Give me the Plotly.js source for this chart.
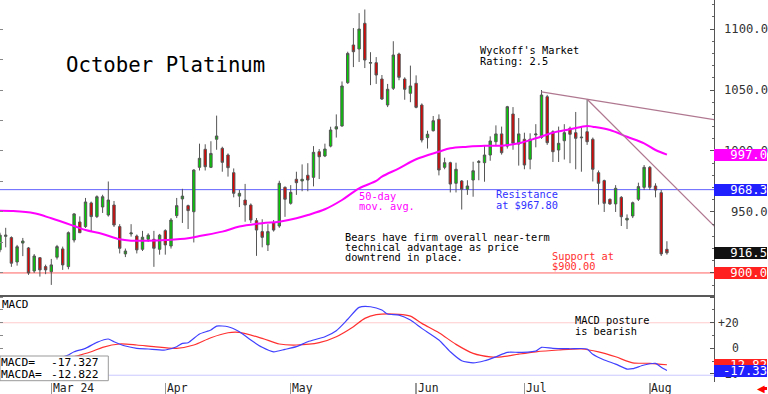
<!DOCTYPE html>
<html><head><meta charset="utf-8">
<script src="https://cdn.plot.ly/plotly-3.0.1.min.js"></script>
<style>html,body{margin:0;padding:0;background:#fff;}#chart{width:768px;height:394px;}</style>
</head><body><div id="chart"></div>
<script>
// ---- Data (trading-day index 0 = first visible session) ----
const open = [919,930,929,909,924.5,920.5,901.6,912.5,905.2,901,
912.9,919.7,905.2,927,941.8,938,957.4,946.2,954.1,947.5,
955.7,938,915.6,932,930.3,919.4,927.6,927.6,919.4,934.7,
922.1,947,960.7,955.2,950.2,986.6,1001.4,986.6,1009.6,1002.2,
996.7,982.2,963,959.8,955.7,942.9,933.9,923,941.2,938.5,
970.2,957.1,976.8,975.4,980.1,978.4,999.4,995.9,1004,1018,
1020.5,1056,1086.9,1083.6,1104.7,1072,1072.4,1059,1037.7,1051.4,
1079.5,1059,1047.3,1055.5,1037.7,1010.9,1016.6,1026,986.6,990.4,
973.5,975.4,968.6,976.2,990.6,990.4,996.7,1007.6,1014,1004,
1030.3,1005.7,1009.6,993.2,1013.2,1011.2,1044.5,1015.8,1000.8,1008.4,
1018.6,1015,1010.8,1015.8,1009.6,982.2,975.7,960.4,956.6,962,
943.4,946.7,960.4,970.2,986.6,971.3,965.8,919.4];
const high = [933,937,930,923,928.7,921.3,915.5,913,906.8,911.5,
923,921.6,934,949,946.4,961.5,958.5,963.6,964.1,975,
959,940,920,940,931.5,934.5,932.5,934.5,932,935.8,
945,961.5,969,956,985,1006,1005.5,1008,1029,1003.5,
998,985.7,968,973,957,945,944,940,943.4,975.6,
971,972,983,989,990,1004,1001.6,1006,1019.9,1030,
1057,1081.4,1100.8,1113,1116,1081,1077,1062.3,1055,1090,
1080.6,1060.4,1070,1062,1039,1016.6,1028.7,1030,994.5,991.2,
990.4,976.2,976,991.2,992.6,1004.9,1012,1021,1020,1037,
1036,1027,1015,1014.5,1022,1050,1046,1017,1020,1022,
1020,1032,1020,1042.4,1011,984,976.5,961,972,963,
948,958.5,974,988.5,987.7,973.5,968,926];
const low = [917,921,905,906,913.8,898.4,900,897,899,890.2,
911,902.5,903,925,932.8,936.9,933.8,945,949.2,946.2,
937.7,916,913,929.8,916,918,925.5,905,915,915,
920,945,941,936,925,984,984,986,1001,983,
979,962,954,942,941,914,921,918,933.9,937,
946,956,964,967,967,971,977,995,1003,1011,
1019.9,1055,1068.8,1073,1068,1054,1055,1041.8,1036,1050,
1058,1042,1040,1035,1007,1002,1016,980,985,966,
966,952,964,962.5,976,974.8,992,1004,997,1002,
1001,988,985,985,1003,1010,1005,991,991,993,
990,985,983,1005,975,956,950,955.8,950,938.5,
936,945,959,968,968,962,913.9,915];
const close = [931,931,908,921.5,926.2,900,913.9,902.5,902.5,906.6,
921.6,906.6,933,948.4,933,958.2,946.2,962.5,962.5,959.8,
939.3,920.2,918,932.8,918.9,929.3,931,920.2,931,923,
943.4,955.2,963,951.1,984.4,994,987.1,998,1012.3,990.7,
986.3,965.3,965.3,955.7,943.4,935.2,929.2,933.9,935.2,973.5,
960.4,966.1,974,976.8,976.2,998.9,995.3,1001.6,1017.2,1019.9,
1053.3,1080,1081.4,1100,1074.6,1072.5,1062.3,1042.6,1050.6,1078.7,
1060.4,1050.6,1053.3,1035.8,1009,1013.7,1024.8,984.4,990.4,972.9,
985,968.6,971.3,983.8,991.4,996.7,1008.2,1014,998.6,1036.3,
1006.3,1014,988.5,1009.6,1013.9,1045.9,1006.8,999.4,1006.3,1015,
1013.7,1010.4,1011.3,1007.6,985,973.5,957.1,956.6,969.4,946.1,
944.8,957.6,970.8,986.6,970.2,968,915.6,916.5];
const days = open.map((_, i) => i);

// 50-day moving average (read at sample days)
const maDay = [0,2,6,9,13,15,18,21,23,26,29,33,35,39,42,46,49,52,54,57,60,63,66,67,70,73,77,79,82,85,88,91,94,97,100,103,104,107,110,113,115,117];
const maVal = [951.1,950.8,948.9,944.8,938.5,935.2,932,927.6,926.5,926.5,927,928.4,930.3,933.9,938,940.7,942,944.8,947.5,952.2,959.8,969.4,975.4,978.9,985.8,993.2,999.4,1002.2,1003.5,1004.3,1004.3,1006.3,1010.4,1015,1017.8,1020.5,1019.9,1017.2,1011.7,1006.3,1000.8,997.0];

// MACD (blue) and MACD average (red)
const macdDay = [11,12,13,15,17,19,20,22,24,26,29,31,32,33,35,37,38,40,42,44,46,48,50,52,54,57,59,61,63,65,67,68,70,72,74,77,79,81,83,85,87,89,91,93,94,95,97,100,103,104,106,108,110,111,113,115,116,117];
const macdVal = [-6.8,-5.2,-2.7,0,4.7,7.3,5.2,1.8,0,-0.5,-1.3,1.3,3.9,4.4,11.2,14.3,17.4,16.9,13,6.5,0.8,-2.7,-0.8,1.3,5.2,9.1,13.8,22.7,32,32.5,29.9,26.8,26,22.1,15.6,6.5,-2.7,-9.7,-11.3,-9.7,-6.6,-3.1,-3.1,-2.7,-2.1,0.8,0,-0.3,-0.5,-4.7,-9.1,-12.3,-16.2,-15.9,-13,-11.7,-14.8,-17.327];
const sigDay = [11,13,16,18,21,24,27,31,34,37,40,42,46,49,52,56,59,62,64,66,70,72,74,77,80,83,86,88,91,94,98,102,105,108,111,114,117];
const sigVal = [-9.5,-6.6,-2.7,0.8,3.4,2.6,1.3,0,2.6,8.3,12.2,12.5,7.8,3.4,2.6,4.4,9.1,16.9,23.4,26.3,26.6,25.2,19.5,12.2,3.1,-3.9,-6.6,-6.6,-4.5,-2.7,-1.3,-0.5,-2.7,-6.6,-11.3,-11.7,-12.822];

// Trendlines drawn on the chart (read endpoints)
const trend1X = [95, 125.3], trend1Y = [1048.5, 1025.7];
const trend2X = [103, 125.3], trend2Y = [1042.4, 938.5];

const resistance = 968.3, support = 900.0;
const macdHigh = 20, macdLow = -21;
const priceTicks = [1100, 1050, 1000, 950];
const macdTicks = [20, 0, -20];
const macdTickText = ['+20', '0', '-20'];
const monthIdx = [9, 29, 51, 73, 92, 114];
const monthLabels = ['Mar 24', 'Apr', 'May', 'Jun', 'Jul', 'Aug'];

// ---- Layout helpers ----
const W = 714, H = 382, SPLIT = 296;
const MONO = 'DejaVu Sans Mono';
const px = x => x / W;
const py = y => (H - y) / H;
function txt(text, x, y, size, color, extra) {
  return Object.assign({text, xref:'paper', yref:'paper', x:px(x), y:py(y), xanchor:'left', yanchor:'middle',
    showarrow:false, borderpad:0, borderwidth:0, font:{family:MONO, size:size, color:color||'#000'}}, extra||{});
}
function valBox(text, yv, yref, bg) {
  return {text, xref:'paper', yref, x:1, y:yv, xanchor:'left', yanchor:'middle', width:53, height:12,
    align:'right', bgcolor:bg, borderpad:0, borderwidth:0, showarrow:false,
    font:{family:MONO, size:12.2, color:'#fff'}};
}

const traces = [
  {type:'candlestick', x:days, open, high, low, close, xaxis:'x', yaxis:'y',
   whiskerwidth:0, hoverinfo:'skip', showlegend:false,
   increasing:{line:{color:'#555', width:1}, fillcolor:'#00d000'},
   decreasing:{line:{color:'#555', width:1}, fillcolor:'#e00000'}},
  {type:'scatter', mode:'lines', x:maDay, y:maVal, xaxis:'x', yaxis:'y',
   line:{color:'#ff00ff', width:2, shape:'spline', smoothing:1}, hoverinfo:'skip', showlegend:false},
  {type:'scatter', mode:'lines', x:trend1X, y:trend1Y, xaxis:'x', yaxis:'y',
   line:{color:'#b07890', width:1.2}, hoverinfo:'skip', showlegend:false},
  {type:'scatter', mode:'lines', x:trend2X, y:trend2Y, xaxis:'x', yaxis:'y',
   line:{color:'#b07890', width:1.2}, hoverinfo:'skip', showlegend:false},
  {type:'scatter', mode:'lines', x:sigDay, y:sigVal, xaxis:'x', yaxis:'y2',
   line:{color:'#ff3030', width:1.2, shape:'spline', smoothing:0.8}, hoverinfo:'skip', showlegend:false},
  {type:'scatter', mode:'lines', x:macdDay, y:macdVal, xaxis:'x', yaxis:'y2',
   line:{color:'#4040ff', width:1.2, shape:'spline', smoothing:0.6}, hoverinfo:'skip', showlegend:false},
  {type:'scatter', mode:'markers', x:[0], y:[1000], xaxis:'x', yaxis:'y3', marker:{opacity:0}, hoverinfo:'skip', showlegend:false},
  {type:'scatter', mode:'markers', x:[0], y:[0], xaxis:'x', yaxis:'y4', marker:{opacity:0}, hoverinfo:'skip', showlegend:false}
];

const splitFrac = (H - SPLIT) / H;
const mainRange = [881.1, 1123.8];
const macdRange = [-26.3, 40.9];

const annotations = [];
// right-axis tick labels (right aligned at chart edge)
priceTicks.forEach(v => annotations.push({text:v.toFixed(1), xref:'paper', yref:'y', x:768/W, y:v,
  xanchor:'right', yanchor:'middle', showarrow:false, borderpad:0, borderwidth:0,
  font:{family:MONO, size:12.2, color:'#333'}}));
macdTicks.forEach((v, k) => annotations.push({text:macdTickText[k], xref:'paper', yref:'y2', x:739/W, y:v,
  xanchor:'right', yanchor:'middle', showarrow:false, borderpad:0, borderwidth:0,
  font:{family:MONO, size:11.5, color:'#333'}}));
// value boxes
annotations.push(valBox(maVal[maVal.length-1].toFixed(1), maVal[maVal.length-1], 'y', '#ff00ff'));
annotations.push(valBox(resistance.toFixed(1), resistance, 'y', '#2020ff'));
annotations.push(valBox(close[close.length-1].toFixed(1), close[close.length-1], 'y', '#111'));
annotations.push(valBox(support.toFixed(1), support, 'y', '#ff2020'));
annotations.push(valBox(sigVal[sigVal.length-1].toFixed(2), sigVal[sigVal.length-1], 'y2', '#ff2020'));
annotations.push(valBox(macdVal[macdVal.length-1].toFixed(2), macdVal[macdVal.length-1], 'y2', '#2020ff'));
// month labels
monthIdx.forEach((d, k) => annotations.push({text:monthLabels[k], xref:'x', yref:'paper', x:d, y:py(388.5),
  xanchor:'left', yanchor:'middle', xshift:1.5, showarrow:false, borderpad:0, borderwidth:0,
  font:{family:MONO, size:11.4, color:'#222'}}));
// texts
annotations.push(txt('October Platinum', 65.5, 64.5, 20.7, '#000'));
annotations.push(txt("Wyckoff's Market", 480, 50.3, 10.3));
annotations.push(txt('Rating: 2.5', 480, 60.8, 10.3));
annotations.push(txt('Bears have firm overall near-term', 344.5, 236.7, 10.3));
annotations.push(txt('technical advantage as price', 344.5, 247, 10.3));
annotations.push(txt('downtrend in place.', 344.5, 257.3, 10.3));
annotations.push(txt('50-day', 359.3, 196, 10.3, '#ff00ff'));
annotations.push(txt('mov. avg.', 359.3, 206.3, 10.3, '#ff00ff'));
annotations.push(txt('Resistance', 495.7, 194.3, 10.3, '#3030ff'));
annotations.push(txt('at $967.80', 495.7, 204.7, 10.3, '#3030ff'));
annotations.push(txt('Support at', 552.3, 255.7, 10.3, '#ff3030'));
annotations.push(txt('$900.00', 552.3, 265.9, 10.3, '#ff3030'));
annotations.push(txt('MACD posture', 575, 320, 10.3));
annotations.push(txt('is bearish', 575, 330.7, 10.3));
annotations.push(txt('MACD', 1.5, 304, 11));
annotations.push(txt('MACD=', 0.5, 362, 11.3));
annotations.push(txt(macdVal[macdVal.length-1].toFixed(3), 51, 362, 11.3));
annotations.push(txt('MACDA=', 0.5, 374.5, 11.3));
annotations.push(txt(sigVal[sigVal.length-1].toFixed(3), 51, 374.5, 11.3));
annotations.push({text:'\u25C0', xref:'paper', yref:'paper', x:px(761), y:py(388.5), xanchor:'center', yanchor:'middle',
  showarrow:false, borderpad:0, borderwidth:0, font:{family:'DejaVu Sans', size:10, color:'#ff0000'}});

const shapes = [
  {type:'line', xref:'paper', yref:'y', x0:0, x1:1, y0:resistance, y1:resistance, line:{color:'#6060ff', width:1}, layer:'below'},
  {type:'line', xref:'paper', yref:'y', x0:0, x1:1, y0:support, y1:support, line:{color:'#ff6060', width:1}, layer:'below'},
  {type:'line', xref:'paper', yref:'y2', x0:0, x1:1, y0:macdHigh, y1:macdHigh, line:{color:'#ffcccc', width:1}, layer:'below'},
  {type:'line', xref:'paper', yref:'y2', x0:0, x1:1, y0:macdLow, y1:macdLow, line:{color:'#c8c8ff', width:1}, layer:'below'},
  {type:'line', xref:'paper', yref:'paper', x0:0, x1:1, y0:splitFrac, y1:splitFrac, line:{color:'#222', width:1.5}},
  {type:'rect', xref:'paper', yref:'paper', x0:0, x1:px(108.3), y0:py(380.7), y1:py(356), line:{color:'#999', width:1}, fillcolor:'#fff'},
  {type:'line', xref:'paper', yref:'paper', x0:px(763), x1:px(767), y0:py(388.5), y1:py(388.5), line:{color:'#ff0000', width:3}}
];

const axCommon = {showgrid:false, zeroline:false};
const layout = {
  width:768, height:394, margin:{l:0, r:54, t:0, b:12, pad:0},
  paper_bgcolor:'#fff', plot_bgcolor:'#fff', showlegend:false, boxgap:0.4,
  xaxis:Object.assign({}, axCommon, {domain:[0,1], anchor:'y2', range:[0, 125.26], rangeslider:{visible:false},
    tickvals:monthIdx, ticks:'outside', ticklen:12, tickwidth:1.5, tickcolor:'#999', showticklabels:false, showline:false}),
  yaxis:Object.assign({}, axCommon, {domain:[splitFrac,1], anchor:'x', side:'right', range:mainRange,
    showline:true, linecolor:'#555', linewidth:1, ticks:'inside', ticklen:4, tickcolor:'#555', tick0:0, dtick:50,
    minor:{ticks:'inside', ticklen:2, tickcolor:'#666', dtick:10, tick0:0, showgrid:false}, showticklabels:false}),
  yaxis2:Object.assign({}, axCommon, {domain:[0,splitFrac], anchor:'x', side:'right', range:macdRange,
    showline:true, linecolor:'#555', linewidth:1, ticks:'inside', ticklen:4, tickcolor:'#555', tick0:0, dtick:20,
    minor:{ticks:'inside', ticklen:2, tickcolor:'#666', dtick:10, tick0:0, showgrid:false}, showticklabels:false}),
  yaxis3:Object.assign({}, axCommon, {overlaying:'y', side:'left', anchor:'x', range:mainRange, ticks:'inside', ticklen:3,
    tickcolor:'#888', tick0:0, dtick:25, showticklabels:false, showline:false}),
  yaxis4:Object.assign({}, axCommon, {overlaying:'y2', side:'left', anchor:'x', range:macdRange, ticks:'inside', ticklen:3,
    tickcolor:'#888', tick0:0, dtick:10, showticklabels:false, showline:false}),
  annotations, shapes
};

Plotly.newPlot('chart', traces, layout, {displayModeBar:false, staticPlot:true});
</script></body></html>
